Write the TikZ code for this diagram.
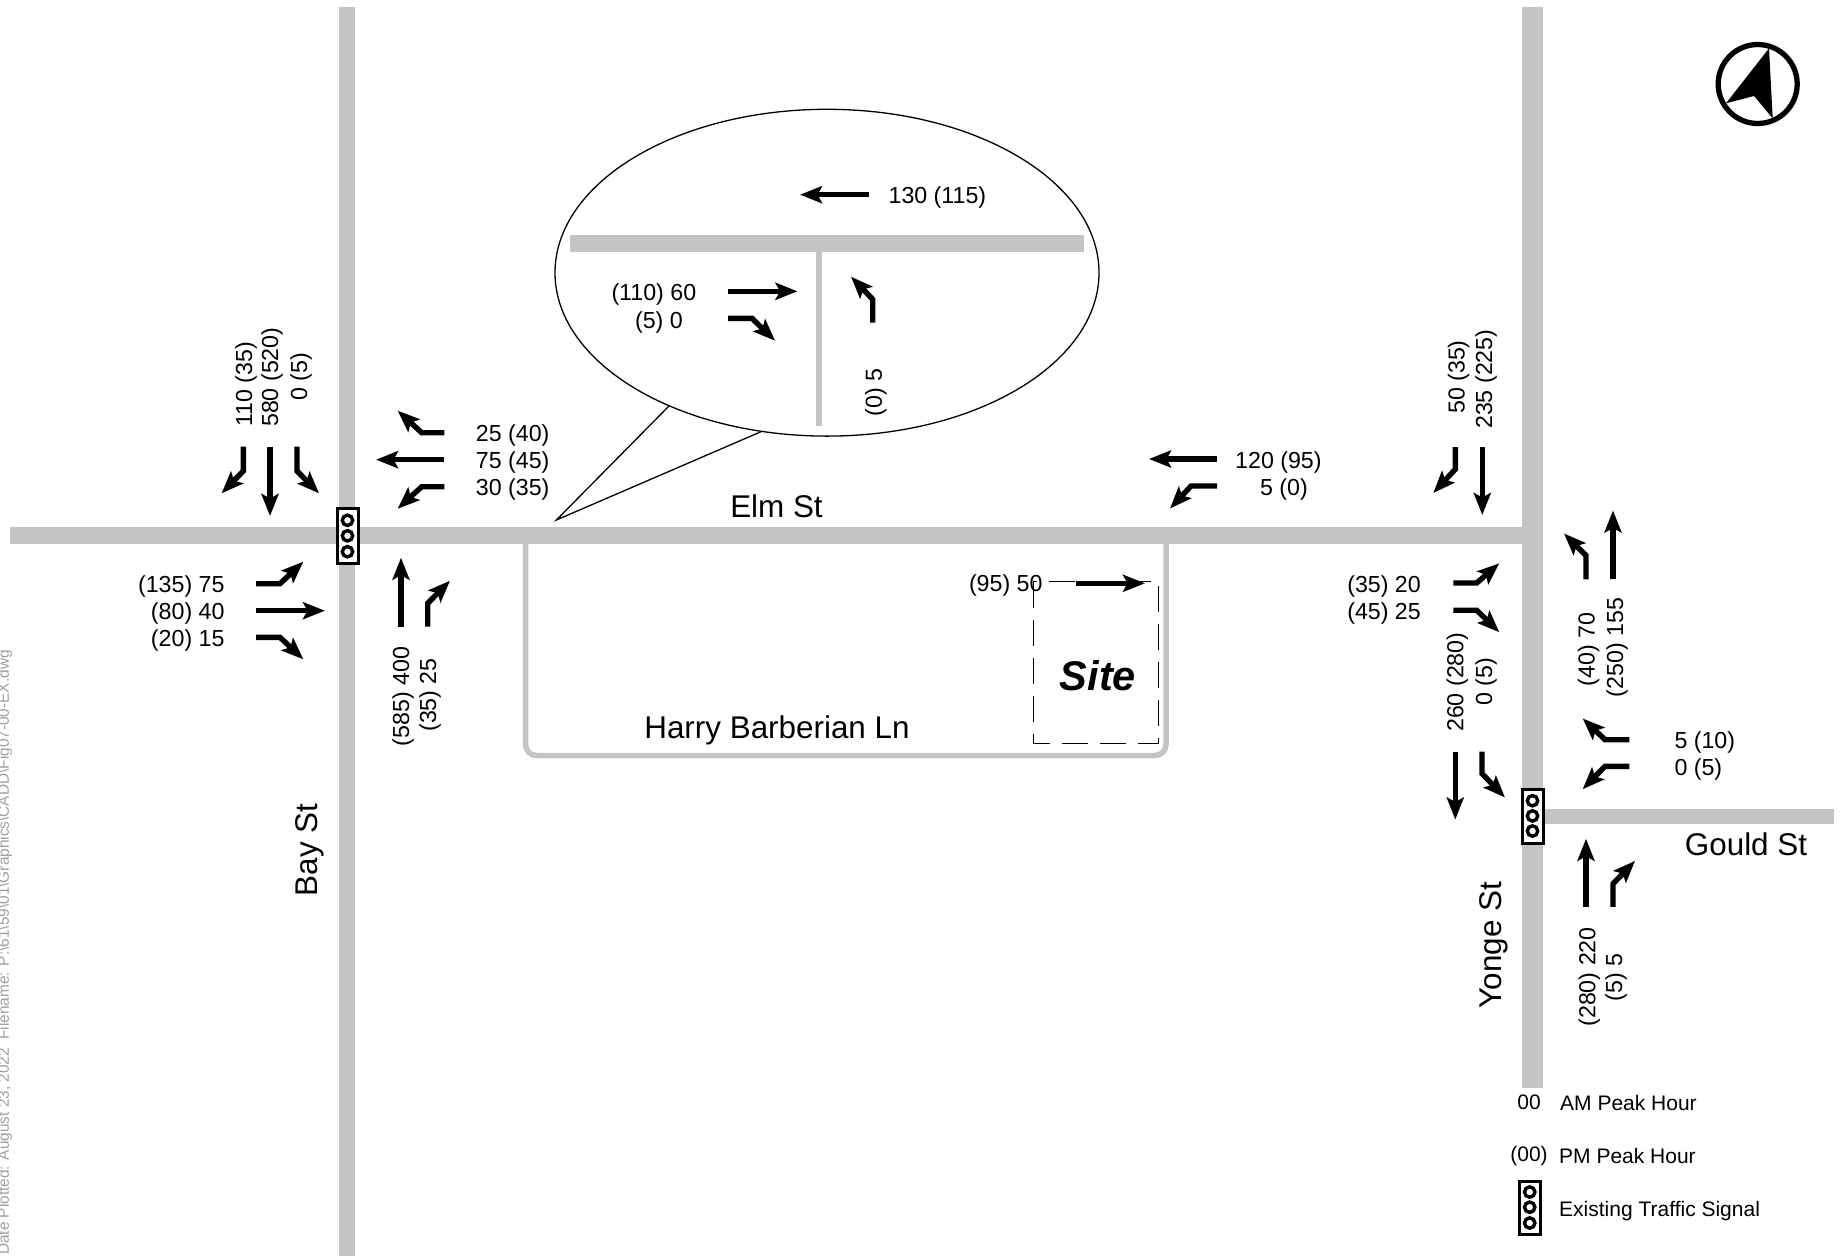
\documentclass[tikz,border=0pt]{standalone}
\usepackage{fontspec}
\setmainfont{Liberation Sans}
\usetikzlibrary{arrows.meta,shapes.geometric}
\definecolor{road}{HTML}{C4C4C4}
\tikzset{
  mv/.style={draw=black,line width=5.4pt,line cap=butt,line join=miter,-{Stealth[length=22pt 0 0,width=17pt 0,inset=4.5pt 0]}},
  rd/.style={fill=road,draw=none},
  thin line/.style={draw=black,line width=1.3pt},
  lab/.style={inner sep=0pt,font=\fontsize{23.2}{23.2}\selectfont},
  street/.style={inner sep=0pt,font=\fontsize{31.4}{31.4}\selectfont},
  legend/.style={inner sep=0pt,font=\fontsize{21}{21}\selectfont,anchor=base west},
}
\newcommand\Lw[4]{\node (#1) [lab,anchor=base west,yshift=-8pt] at (#2,#3) {#4};}
\newcommand\Le[4]{\node (#1) [lab,anchor=base east,yshift=-8pt] at (#2,#3) {#4};}
\newcommand\Vs[4]{\node (#1) [lab,rotate=90,anchor=base west,yshift=-8pt] at (#2,#3) {#4};}
\newcommand\Ve[4]{\node (#1) [lab,rotate=90,anchor=base east,yshift=-8pt] at (#2,#3) {#4};}
\newcommand\Sgn[8]{%
  \draw[line width=3pt,fill=white] (#1,#2) rectangle (#3,#4);
  \foreach \yy in {#6,#7,#8}{\draw[line width=3.4pt,fill=white] (#5,\yy) circle (5.2pt);}}
\begin{document}
\begin{tikzpicture}[x=1pt,y=-1pt]
\useasboundingbox (0,0) rectangle (1845,1256);
% side note
\node (plot) [inner sep=0pt,rotate=90,anchor=base east,text=black!38,font=\fontsize{15.4}{15.4}\selectfont] at (9,650)
  {Date Plotted: August 23, 2022\ \ Filename: P:\textbackslash 61\textbackslash 59\textbackslash 01\textbackslash Graphics\textbackslash CADD\textbackslash Fig07-00-EX.dwg};
% roads
\fill[rd] (339,7) rectangle (355,1256);
\fill[rd] (10,527) rectangle (1522,543.5);
\fill[rd] (1522,7) rectangle (1543,1088);
\fill[rd] (1543,808.5) rectangle (1834,824);
\draw[road,line width=5.5pt,rounded corners=11pt] (525.5,543) -- (525.5,755.5) -- (1166,755.5) -- (1166,543);
% callout
\draw[thin line] (669,406) -- (556.4,520) -- (761,431.7);
\node (bubble) at (827,272.7) [ellipse,draw=black,line width=1.3pt,fill=white,inner sep=0pt,minimum width=544pt,minimum height=326.8pt] {};
\fill[rd] (570,235.3) rectangle (1084,252);
\fill[rd] (816.4,252) rectangle (822.2,426);
\draw[mv] (869,194.7) -- (800,194.7);
\Lw{c1}{888.4}{195}{130 (115)}
\Le{c2}{696.4}{292.3}{(110) 60}
\Le{c3}{683}{320}{(5) 0}
\draw[mv] (728,291.3) -- (797.5,291.3);
\draw[mv] (728,318.3) -- (752,318.3) -- (775,340.7);
\draw[mv] (872.7,322.7) -- (872.7,299.3) -- (851,276.7);
\Ve{c4}{873.8}{368.3}{(0) 5}
% site
\draw[line width=1.3pt,dash pattern=on 26pt off 12pt] (1033.3,581.7) rectangle (1158.3,743.3);
\node (site) [inner sep=0pt,font=\fontsize{41.5}{41.5}\selectfont\bfseries\itshape] at (1098,676) {Site};
\draw[mv] (1076,583.3) -- (1145,583.3);
\Le{s1}{1042.7}{583}{(95) 50}
% Elm / Bay
\draw[mv] (243.3,446.7) -- (243.3,471) -- (221.7,493.3);
\draw[mv] (270,446.7) -- (270,516);
\draw[mv] (297,446.7) -- (297,471) -- (319,493.3);
\Vs{b1}{244}{427}{110 (35)}
\Vs{b2}{270}{427}{580 (520)}
\Vs{b3}{299}{401}{0 (5)}
\draw[mv] (444.3,432.7) -- (421.7,432.7) -- (397.7,410.7);
\draw[mv] (444.3,459.7) -- (376,459.7);
\draw[mv] (444.3,486.7) -- (421.7,486.7) -- (397.7,508.7);
\Lw{b4}{475.7}{433}{25 (40)}
\Lw{b5}{475.7}{460}{75 (45)}
\Lw{b6}{475.7}{487}{30 (35)}
\draw[mv] (256,583.7) -- (280,583.7) -- (303.3,561.7);
\draw[mv] (256,610.7) -- (325,610.7);
\draw[mv] (256,637.3) -- (280,637.3) -- (303.3,659.3);
\Le{b7}{224.7}{584}{(135) 75}
\Le{b8}{224.7}{611}{(80) 40}
\Le{b9}{224.7}{638}{(20) 15}
\draw[mv] (401,626.7) -- (401,557.7);
\draw[mv] (427.7,626.7) -- (427.7,603.3) -- (450,580.7);
\Ve{b10}{401}{646.7}{(585) 400}
\Ve{b11}{428}{658}{(35) 25}
\Sgn{337}{508.5}{358.5}{563}{347.5}{520.3}{535.8}{551.7}
% Elm east
\draw[mv] (1217,459) -- (1149,459);
\draw[mv] (1217,486) -- (1191,486) -- (1170,508.5);
\Lw{e1}{1235}{460}{120 (95)}
\Le{e2}{1308}{487}{5 (0)}
% Yonge
\draw[mv] (1455.3,447.2) -- (1455.3,469.2) -- (1433.3,493);
\draw[mv] (1482.3,447.2) -- (1482.3,515);
\Vs{y1}{1456.7}{414}{50 (35)}
\Vs{y2}{1484}{429}{235 (225)}
\draw[mv] (1453.3,583) -- (1476.7,583) -- (1499.3,563.3);
\draw[mv] (1453.3,610.2) -- (1476.7,610.2) -- (1499.3,632.2);
\Le{y3}{1421}{584}{(35) 20}
\Le{y4}{1421}{611}{(45) 25}
\draw[mv] (1455.3,751.6) -- (1455.3,819.5);
\draw[mv] (1482,751.6) -- (1482,773.6) -- (1505,797.5);
\Vs{y5}{1455.3}{732}{260 (280)}
\Vs{y6}{1484}{705.7}{0 (5)}
\draw[mv] (1586,579.4) -- (1586,555.5) -- (1564,533.5);
\draw[mv] (1613,579.4) -- (1613,510.5);
\Ve{y7}{1586.7}{612.5}{(40) 70}
\Ve{y8}{1615}{597.8}{(250) 155}
\draw[mv] (1629.3,739.7) -- (1605,739.7) -- (1582.7,718.5);
\draw[mv] (1629.3,766.3) -- (1605,766.3) -- (1582.7,789.2);
\Lw{y9}{1674.3}{740.6}{5 (10)}
\Lw{y10}{1674.3}{767.7}{0 (5)}
\draw[mv] (1586,906.8) -- (1586,838.8);
\draw[mv] (1613,906.8) -- (1613,883.8) -- (1635,860.9);
\Ve{y11}{1587.3}{927}{(280) 220}
\Ve{y12}{1614}{953.6}{(5) 5}
\Sgn{1522}{789}{1543.5}{843}{1532.5}{800.7}{815.9}{831}
% street names
\node (elm) [street] at (776.5,506) {Elm St};
\node (harry) [street] at (777,730) {Harry Barberian Ln};
\node (bay) [street,rotate=90] at (310,850) {Bay St};
\node (yonge) [street,rotate=90] at (1494,945) {Yonge St};
\node (gould) [street] at (1746,844) {Gould St};
% north arrow
\draw[line width=5.3pt] (1757.7,84) circle (39.5pt);
\fill (1769,48.3) -- (1726,103.3) -- (1754,96) -- (1772.7,118.3) -- cycle;
% legend
\node (k1) [inner sep=0pt,font=\fontsize{21}{21}\selectfont] at (1529,1102) {00};
\node (k2) [legend,yshift=-7.5pt] at (1560,1103) {AM Peak Hour};
\node (k3) [inner sep=0pt,font=\fontsize{21}{21}\selectfont] at (1529,1156) {(00)};
\node (k4) [legend,yshift=-7.5pt] at (1559,1156) {PM Peak Hour};
\Sgn{1519}{1181.5}{1540.5}{1234}{1529.7}{1192}{1207.2}{1223}
\node (k5) [legend,yshift=-7.5pt] at (1559,1209) {Existing Traffic Signal};
\end{tikzpicture}
\end{document}
